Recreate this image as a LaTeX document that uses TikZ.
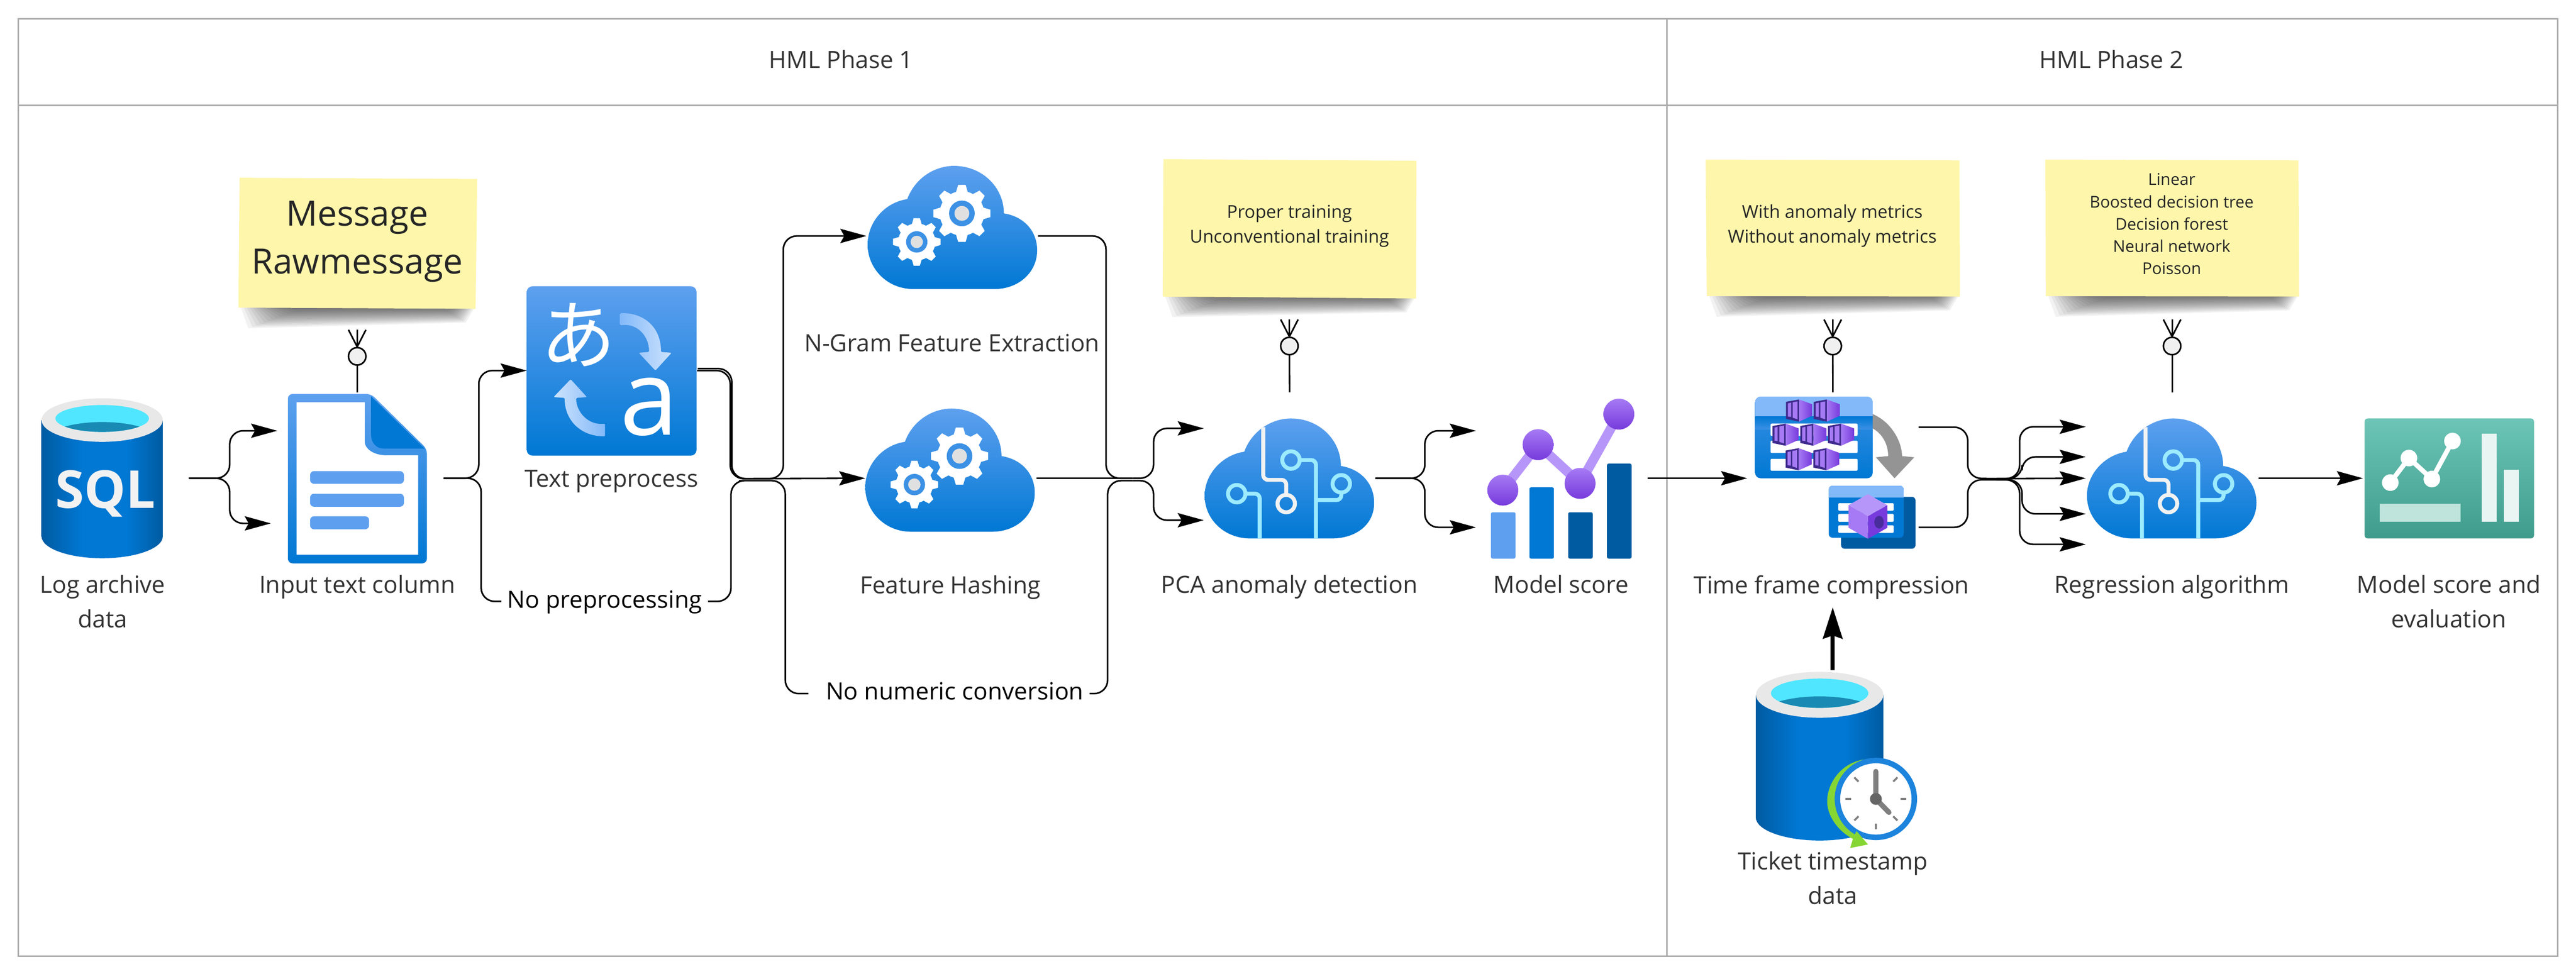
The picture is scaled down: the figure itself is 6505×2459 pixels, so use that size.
\documentclass[tikz,border=0pt]{standalone}
\usepackage{fontspec}
\setmainfont{Open Sans}
\newfontfamily\jpfont{Noto Sans CJK JP}
\usetikzlibrary{arrows.meta,shapes.geometric}
\definecolor{frameC}{HTML}{ABABAB}
\definecolor{labelC}{HTML}{333333}
\definecolor{noteC}{HTML}{FEF6AB}
\definecolor{azLight}{HTML}{5EA0EF}
\definecolor{azMid}{HTML}{0078D4}
\definecolor{azDark}{HTML}{005BA1}
\definecolor{azHead}{HTML}{83B9F9}
\definecolor{azBody}{HTML}{3C91E5}
\definecolor{rimC}{HTML}{E8E8E8}
\definecolor{cyanC}{HTML}{50E6FF}
\definecolor{waterC}{HTML}{198AB3}
\definecolor{circuitC}{HTML}{9CEBFF}
\definecolor{pLight}{HTML}{A67AF4}
\definecolor{pDark}{HTML}{773ADC}
\definecolor{pLine}{HTML}{B796F9}
\definecolor{pFrame}{HTML}{3E2A8C}
\definecolor{greyArrow}{HTML}{949494}
\definecolor{tealTop}{HTML}{6CC5B6}
\definecolor{tealBot}{HTML}{3F9C8D}
\definecolor{tealBlock}{HTML}{BEE4DC}
\definecolor{tealBar}{HTML}{E9F5F3}
\definecolor{greenC}{HTML}{86D633}
\definecolor{clockC}{HTML}{7F7F7F}
\pgfdeclarehorizontalshading{cylshade}{100bp}{color(0bp)=(azDark);color(25bp)=(azDark);color(42bp)=(azMid);color(60bp)=(azMid);color(75bp)=(azDark);color(100bp)=(azDark)}

\tikzset{
  flow/.style={draw=black,line width=4pt,rounded corners=34pt},
  arr/.style={flow,-{Stealth[length=66pt,width=36pt,inset=10pt]}},
  uparr/.style={draw=black,line width=10pt,-{Stealth[length=79pt,width=49pt,inset=8pt]}},
  noteline/.style={draw=black,line width=4pt},
  hub/.style={circle,draw=black,line width=4pt,fill=black!6,minimum size=44pt,inner sep=0pt},
  lbl/.style={font=\fontsize{60}{87}\selectfont,text=labelC,align=center,inner sep=0pt},
  blacklbl/.style={font=\fontsize{60}{87}\selectfont,text=black,inner xsep=15pt,inner ysep=0pt,text height=50pt},
  notetxt/.style={font=\fontsize{45}{62}\selectfont,text=black!85,align=center,inner sep=0pt},
  notesmall/.style={font=\fontsize{41}{56.2}\selectfont,text=black!85,align=center,inner sep=0pt},
  notebig/.style={font=\fontsize{88}{122}\selectfont,text=black!85,align=center,inner sep=0pt},
  headtxt/.style={font=\fontsize{60}{80}\selectfont,text=labelC,inner sep=0pt},
  port/.style={inner sep=0pt,outer sep=0pt,draw=none},
  panel/.style={draw=frameC,line width=4pt}
}
% invisible node whose sides are where the connectors end
\newcommand{\iconnode}[5]{\node[port,minimum width={#4-#2},minimum height={#5-#3}] (#1) at ({(#2+#4)/2},{(#3+#5)/2}) {};}
% sticky note: TL TR BR BL
\newcommand{\stickynote}[8]{%
  \foreach \k in {0,...,13}{%
    \fill[black,opacity=.052] ({#7+6+\k*7.5},{#8-1}) -- ({#5-4-\k*4},{#6-1}) -- ({#5-25-\k*4},{#6+35-\k*2.7}) -- ({#7+25+\k*10},{#8+52-\k*3.7}) -- cycle;}
  \fill[noteC] (#1,#2) -- (#3,#4) -- (#5,#6) -- (#7,#8) -- cycle;
}
\newcommand{\cloudshape}[2]{%
  \shade[top color=azLight,bottom color=azMid,shift={(#1,#2)}]
    (100,84) .. controls (120,30) and (170,0) .. (218,0)
    .. controls (290,0) and (344,55) .. (344,120)
    .. controls (395,128) and (428,165) .. (428,213)
    .. controls (428,270) and (380,303) .. (321,303)
    -- (115,303) .. controls (50,303) and (0,255) .. (0,195)
    .. controls (0,140) and (45,92) .. (100,84) -- cycle;
}
\newcommand{\gearicon}[3]{%
  \begin{scope}[shift={(#1,#2)}]
    \fill[white] (0,0) circle ({.78*#3});
    \foreach \a in {0,45,...,315}{%
      \fill[white,rotate=\a] ({-.22*#3},{-.7*#3}) -- ({-.13*#3},{-#3}) -- ({.13*#3},{-#3}) -- ({.22*#3},{-.7*#3}) -- cycle;}
    \fill[azBody] (0,0) circle ({.45*#3});
    \fill[black!12] (0,0) circle ({.26*#3});
  \end{scope}
}
\newcommand{\gearcloud}[2]{%
  \shade[top color=azLight,bottom color=azMid,shift={(#1,#2)}]
    (100,84) .. controls (120,30) and (170,0) .. (218,0)
    .. controls (290,0) and (344,55) .. (344,120)
    .. controls (395,128) and (428,165) .. (428,213)
    .. controls (428,270) and (380,311) .. (321,311)
    -- (115,311) .. controls (50,311) and (0,260) .. (0,199)
    .. controls (0,140) and (45,92) .. (100,84) -- cycle;
  \gearicon{#1+238}{#2+120}{72}
  \gearicon{#1+124}{#2+192}{60}
}
\newcommand{\aicloud}[2]{%
  \cloudshape{#1}{#2}
  \begin{scope}[shift={(#1,#2)},line width=10pt]
    \draw[black!5,rounded corners=12pt] (148,22) -- (148,155) -- (206,155) -- (206,192);
    \draw[black!5] (206,215) circle (22);
    \draw[circuitC,rounded corners=12pt] (240,105) -- (281,105) -- (281,303);
    \draw[circuitC] (218,105) circle (22);
    \draw[circuitC,rounded corners=12pt] (281,206) -- (345,206) -- (345,187);
    \draw[circuitC] (345,165) circle (22);
    \draw[circuitC,rounded corners=12pt] (103,190) -- (139,190) -- (139,303);
    \draw[circuitC] (81,190) circle (22);
  \end{scope}
}
\newcommand{\dbbody}[5]{% cx, rim cy, rx, ry, bottom cy
  \shade[shading=cylshade]
    ({#1-#3},#2) -- ({#1-#3},#5) .. controls ({#1-#3},{#5+.55*#4}) and ({#1-.55*#3},{#5+#4}) .. (#1,{#5+#4})
    .. controls ({#1+.55*#3},{#5+#4}) and ({#1+#3},{#5+.55*#4}) .. ({#1+#3},#5) -- ({#1+#3},#2) -- cycle;
  \fill[rimC] (#1,#2) ellipse ({#3} and {#4});
}
\newcommand{\kbunit}[2]{%
  \begin{scope}[shift={(#1,#2)}]
    \shade[left color=pLight,right color=pDark] (0,-28) -- (33,-16) -- (33,13) -- (0,28) -- cycle;
    \fill[pFrame] (-33,-22) -- (0,-28) -- (0,28) -- (-33,21) -- cycle;
    \fill[pLight] (-28,-18) -- (-20,-20) -- (-20,16) -- (-28,15) -- cycle;
    \fill[pLight] (-16,-21) -- (-4,-23) -- (-4,22) -- (-16,18) -- cycle;
  \end{scope}
}
\newcommand{\crowfoot}[1]{%
  \draw[noteline] (#1.north) -- ++(-22,-43);
  \draw[noteline] (#1.north) -- ++(0,-43);
  \draw[noteline] (#1.north) -- ++(22,-43);
}

\begin{document}
\begin{tikzpicture}[x=1pt,y=-1pt]
\useasboundingbox (0,0) rectangle (6505,2459);
\fill[white] (0,0) rectangle (6505,2459);

% frame
\draw[panel] (46,48) rectangle (6459,2415);
\draw[panel] (46,266) -- (6459,266);
\draw[panel] (4209,48) -- (4209,2415);
\node[headtxt,anchor=base] (phase1) at (2124,172) {HML Phase 1};
\node[headtxt,anchor=base] (phase2) at (5332,172) {HML Phase 2};

% connector anchors
\iconnode{sql}{106}{1005}{477}{1411}
\iconnode{doc}{684}{991}{1120}{1425}
\iconnode{tp}{1330}{723}{1760}{1149}
\iconnode{ngram}{2188}{419}{2621}{773}
\iconnode{hash}{2185}{1032}{2618}{1384}
\iconnode{pca}{3040}{991}{3473}{1425}
\iconnode{score}{3727}{1005}{4160}{1411}
\iconnode{tfc}{4412}{991}{4845}{1425}
\iconnode{reg}{5267}{991}{5703}{1425}
\iconnode{final}{5967}{1057}{6399}{1359}
\iconnode{ticket}{4434}{1692}{4822}{2140}
\coordinate (docInA) at (700,1088);
\coordinate (j1) at (1900,1209);
\coordinate (j2) at (2860,1208);
\coordinate (j2b) at (2860,1214);
\coordinate (j3) at (5040,1209);
\coordinate (j3b) at (5040,1212);
\coordinate (tfcIn) at (4628,1534);

% ---- SQL cylinder
\dbbody{258}{1061}{153}{55}{1355}
\fill[cyanC] (258,1057) ellipse (118 and 34);
\begin{scope}
  \clip (258,1057) ellipse (118 and 34);
  \fill[waterC] (258,1118) ellipse (150 and 52);
\end{scope}
\node[font=\bfseries\fontsize{132}{132}\selectfont,text=black!5,inner sep=0pt,anchor=base] (sqltxt) at (266,1284) {SQL};
\node[lbl,anchor=base] (sqlL) at (259,1585) {Log archive\\data};

% ---- document icon
\shade[top color=azLight,bottom color=azMid,rounded corners=12pt]
  (727,995) -- (937,995) -- (1078,1134) -- (1078,1423) -- (727,1423) -- cycle;
\fill[white] (749,1016) -- (921,1016) -- (921,1115) .. controls (921,1135) and (945,1150) .. (976,1150) -- (1056,1150) -- (1056,1401) -- (749,1401) -- cycle;
\fill[azMid] (937,1001) -- (1072,1133) -- (969,1133) .. controls (950,1133) and (937,1118) .. (937,1098) -- cycle;
\fill[azLight,rounded corners=10pt] (783,1190) rectangle (1020,1222);
\fill[azLight,rounded corners=10pt] (783,1247) rectangle (1020,1280);
\fill[azLight,rounded corners=10pt] (783,1304) rectangle (932,1337);
\node[lbl,anchor=base] (docL) at (902,1498) {Input text column};

% ---- text preprocess icon
\shade[top color=azLight,bottom color=azMid,rounded corners=15pt] (1330,723) rectangle (1759,1151);
\node[font=\jpfont\fontsize{190}{190}\selectfont,text=white,inner sep=0pt] (kana) at (1460,846) {あ};
\node[font=\fontsize{265}{265}\selectfont,text=white,inner sep=0pt,anchor=base] (latin) at (1640,1099) {a};
\shade[left color=azHead,right color=azHead!40,rounded corners=3pt]
  (1566,791) .. controls (1630,790) and (1669,830) .. (1669,889) -- (1696,891) -- (1655,936) -- (1613,891) -- (1639,889)
  .. controls (1639,850) and (1610,815) .. (1566,822) -- cycle;
\shade[left color=azHead!40,right color=azHead,rounded corners=3pt]
  (1528,1102) .. controls (1465,1102) and (1426,1060) .. (1426,1005) -- (1398,1003) -- (1441,958) -- (1482,1003) -- (1455,1005)
  .. controls (1455,1040) and (1485,1075) .. (1528,1070) -- cycle;
\node[lbl,anchor=base] (tpL) at (1544,1230) {Text preprocess};

% ---- gear clouds
\gearcloud{2191}{419}
\node[lbl,anchor=base] (ngramL) at (2404,888) {N-Gram Feature Extraction};
\gearcloud{2185}{1032}
\node[lbl,anchor=base] (hashL) at (2400,1500) {Feature Hashing};

% ---- PCA
\aicloud{3042}{1057}
\node[lbl,anchor=base] (pcaL) at (3256,1498) {PCA anomaly detection};

% ---- model score chart
\fill[azLight,rounded corners=4pt] (3765,1294) rectangle (3827,1411);
\fill[azMid,rounded corners=4pt] (3862,1231) rectangle (3924,1411);
\fill[azDark,rounded corners=4pt] (3960,1294) rectangle (4022,1411);
\fill[azDark,rounded corners=4pt] (4058,1171) rectangle (4120,1411);
\draw[pLine,line width=24pt] (3795,1238) -- (3884,1123) -- (3990,1221) -- (4088,1046);
\foreach \px/\py in {3795/1238,3884/1123,3990/1221,4088/1046}{
  \shade[top color=pLight,bottom color=pDark] (\px,\py) circle (39);}
\node[lbl,anchor=base] (scoreL) at (3942,1498) {Model score};

% ---- time frame compression icons
\shade[top color=azBody,bottom color=azMid,rounded corners=14pt] (4432,1002) rectangle (4729,1208);
\begin{scope}
  \clip[rounded corners=14pt] (4432,1002) rectangle (4729,1208);
  \fill[azHead] (4432,1002) rectangle (4729,1052);
  \shade[top color=azMid,bottom color=azBody] (4432,1052) rectangle (4729,1085);
\end{scope}
\fill[white,rounded corners=3pt] (4471,1070) rectangle (4691,1101);
\fill[white,rounded corners=3pt] (4471,1113) rectangle (4691,1144);
\fill[white,rounded corners=3pt] (4471,1159) rectangle (4691,1189);
\kbunit{4543}{1037}\kbunit{4613}{1037}
\kbunit{4509}{1098}\kbunit{4579}{1098}\kbunit{4649}{1098}
\kbunit{4542}{1160}\kbunit{4612}{1160}
\fill[greyArrow] (4729,1046) .. controls (4775,1065) and (4803,1115) .. (4803,1152) -- (4834,1155) -- (4784,1208) -- (4737,1155) -- (4768,1152) .. controls (4768,1120) and (4752,1095) .. (4729,1082) -- cycle;
\fill[azDark,rounded corners=9pt] (4649,1255) rectangle (4837,1386);
\fill[azMid,rounded corners=9pt] (4618,1227) rectangle (4807,1358);
\begin{scope}
  \clip[rounded corners=9pt] (4618,1227) rectangle (4807,1358);
  \fill[azHead] (4618,1227) rectangle (4807,1257);
\end{scope}
\fill[white,rounded corners=2pt] (4642,1271) rectangle (4782,1290);
\fill[white,rounded corners=2pt] (4642,1298) rectangle (4782,1318);
\fill[white,rounded corners=2pt] (4642,1327) rectangle (4782,1346);
\fill[pLine] (4717,1248) -- (4766,1276) -- (4717,1304) -- (4668,1276) -- cycle;
\fill[pLight] (4668,1276) -- (4717,1304) -- (4717,1361) -- (4668,1333) -- cycle;
\fill[pDark] (4766,1276) -- (4717,1304) -- (4717,1361) -- (4766,1333) -- cycle;
\fill[pFrame!80!pDark] (4745,1319) ellipse (12 and 16);
\node[lbl,anchor=base] (tfcL) at (4625,1499) {Time frame compression};

% ---- ticket cylinder with clock
\dbbody{4595}{1755}{161}{58}{2065}
\fill[cyanC] (4595,1751) ellipse (123 and 37);
\begin{scope}
  \clip (4595,1751) ellipse (123 and 37);
  \fill[waterC] (4595,1814) ellipse (160 and 55);
\end{scope}
\fill[greenC] (4725,1917) .. controls (4655,1917) and (4614,1975) .. (4614,2024)
  .. controls (4614,2060) and (4640,2098) .. (4679,2119) -- (4725,2100) -- (4725,2020) -- cycle;
\fill[azMid!70!azLight] (4737,2018) circle (104);
\fill[white] (4737,2018) circle (90);
\foreach \a in {45,90,135,180,225,270,315}{
  \draw[clockC,line width=5pt,rotate around={\a:(4737,2018)}] (4737,1956) -- (4737,1941);}
\draw[clockC,line width=14pt,line cap=round] (4737,2018) -- (4737,1949);
\draw[clockC,line width=13pt,line cap=round] (4737,2018) -- (4770,2052);
\fill[black!60] (4737,2018) circle (15);
\fill[greenC] (4688,2099) -- (4717,2133) -- (4672,2142) -- (4679,2119) -- cycle;
\node[lbl,anchor=base] (ticketL) at (4628,2284) {Ticket timestamp\\data};

% ---- regression
\aicloud{5270}{1057}
\node[lbl,anchor=base] (regL) at (5484,1498) {Regression algorithm};

% ---- final chart
\shade[top color=tealTop,middle color=tealTop!92!tealBot,bottom color=tealBot,rounded corners=8pt] (5971,1057) rectangle (6399,1360);
\fill[tealBar] (6267,1095) rectangle (6304,1318);
\fill[tealBar] (6323,1186) rectangle (6360,1318);
\fill[tealBlock] (6009,1272) rectangle (6213,1318);
\draw[white,line width=12pt] (6036,1219) -- (6083,1157) -- (6141,1210) -- (6193,1114);
\foreach \px/\py in {6036/1219,6083/1157,6141/1210,6193/1114}{
  \fill[white] (\px,\py) circle (21);}
\node[lbl,anchor=base] (finalL) at (6184,1585) {Model score and\\evaluation};

% ---- sticky notes
\stickynote{605}{449}{1205}{452}{1201}{780}{602}{777}
\node[notebig,anchor=base] (note1) at (902,692) {Message\\Rawmessage};
\stickynote{2938}{402}{3577}{406}{3576}{754}{2936}{749}
\node[notetxt,anchor=base] (note2) at (3256,613) {Proper training\\Unconventional training};
\stickynote{4307}{403}{4948}{405}{4949}{749}{4310}{748}
\node[notetxt,anchor=base] (note3) at (4627,613) {With anomaly metrics\\Without anomaly metrics};
\stickynote{5165}{403}{5804}{405}{5806}{749}{5166}{748}
\node[notesmall,anchor=base] (note4) at (5484,693) {Linear\\Boosted decision tree\\Decision forest\\Neural network\\Poisson};

% ---- note links
\node[hub] (hub1) at (902,900) {};
\node[hub] (hub2) at (3256,874) {};
\node[hub] (hub3) at (4628,874) {};
\node[hub] (hub4) at (5485,874) {};
\draw[noteline] (doc.north) -- (hub1);
\draw[noteline] (pca.north) -- (hub2);
\draw[noteline] (tfc.north) -- (hub3);
\draw[noteline] (reg.north) -- (hub4);
\crowfoot{hub1}\crowfoot{hub2}\crowfoot{hub3}\crowfoot{hub4}

% ---- flow labels
\node[blacklbl,text depth=16pt] (noprep) at (1527,1519) {No preprocessing};
\node[blacklbl,text depth=18pt] (noconv) at (2411,1752) {No numeric conversion};

% ---- connectors
\draw[arr] (sql.east) -| (580,1088) -- (docInA);
\draw[arr] (sql.east) -| (580,1322) -- (doc.west |- 0,1322);
\draw[arr] (doc.east) -| (1209,936) -- (tp.west);
\draw[flow] (doc.east) -| (1215,1519) -- (noprep.west);
\draw[flow] (tp.east) -| (1844,1209) -- (j1);
\draw[flow] ([shift={(2,-5)}]tp.east) -| (1848,1209) -- (j1);
\draw[flow] (noprep.east) -| (1846,1214) -- (1900,1214) -| (1983,1752) -- ([xshift=-29pt]noconv.west);
\draw[arr] (j1) -| (1978,596) -- (ngram.west);
\draw[arr] (j1) -- (hash.west);
\draw[flow] (ngram.east) -| (2793,1208) -- (j2);
\draw[flow] (hash.east) -- (j2);
\draw[flow] (noconv.east) -| (2797,1214) -- (j2b);
\draw[arr] (j2) -| (2913,1082) -- (pca.west |- 0,1082);
\draw[arr] (j2b) -| (2913,1314) -- (pca.west |- 0,1314);
\draw[arr] (pca.east) -| (3598,1088) -- (score.west |- 0,1088);
\draw[arr] (pca.east) -| (3598,1332) -- (score.west |- 0,1332);
\draw[arr] (score.east) -- (tfc.west);
\draw[uparr] (ticket.north) -- (tfcIn);
\draw[flow] (tfc.east |- 0,1079) -| (4969,1208) -- (j3);
\draw[flow] (tfc.east |- 0,1332) -| (4969,1212) -- (j3b);
\draw[arr] (j3) -| (5100,1078) -- (reg.west |- 0,1078);
\draw[arr] (j3) -| (5106,1154) -- (reg.west |- 0,1154);
\draw[arr] (j3) -- (reg.west);
\draw[arr] (j3b) -| (5106,1298) -- (reg.west |- 0,1298);
\draw[arr] (j3b) -| (5100,1375) -- (reg.west |- 0,1375);
\draw[arr] (reg.east) -- (final.west);
\end{tikzpicture}
\end{document}
